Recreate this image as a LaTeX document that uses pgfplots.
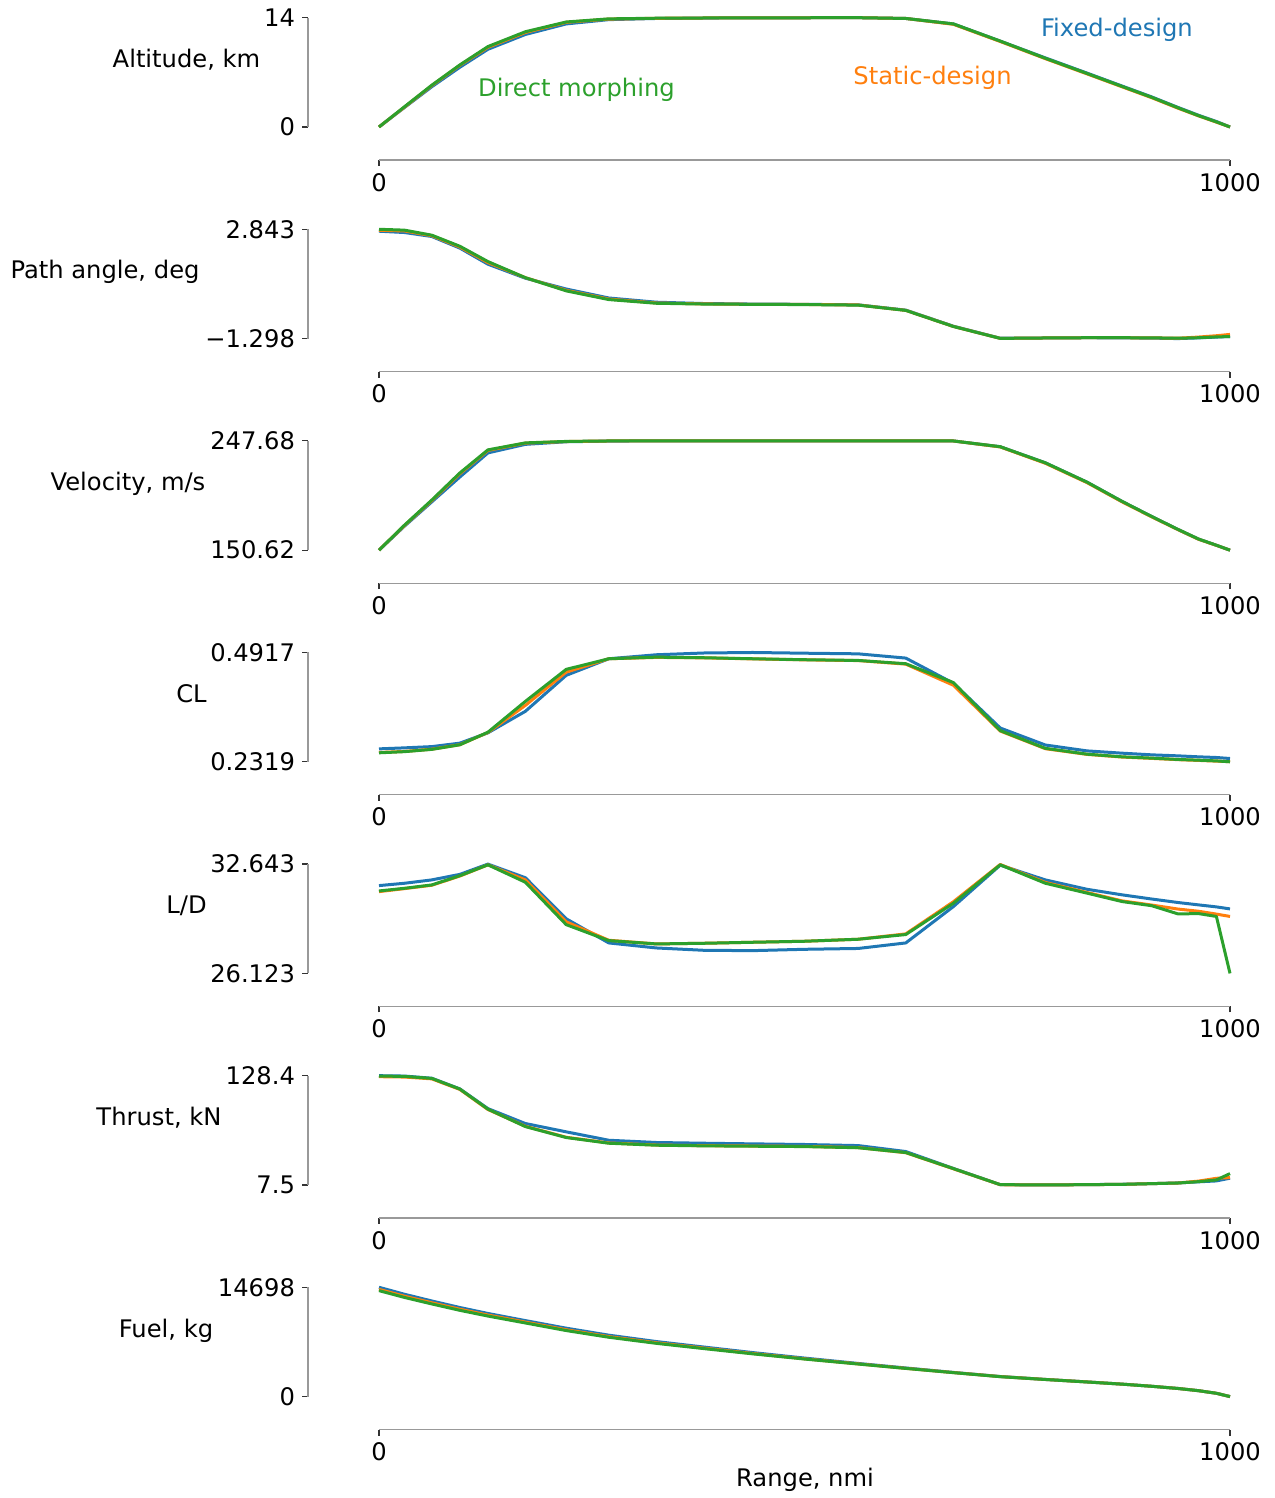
\documentclass[border=0pt]{standalone}
\usepackage{fontspec}
\setmainfont{DejaVu Sans}
\usepackage{pgfplots}
\usepackage{pgfplotstable}
\pgfplotsset{compat=1.18}

\definecolor{cFixed}{HTML}{1F77B4}
\definecolor{cStatic}{HTML}{FF7F0E}
\definecolor{cDirect}{HTML}{2CA02C}

\newcommand{\fs}{\fontsize{12.1pt}{14.5pt}\selectfont}

% columns: range (nmi), fixed-design, static-design, direct morphing
\pgfplotstableread{
x    f      s      d
0    0      0      0
30   2.50   2.55   2.60
62   5.15   5.30   5.35
95   7.65   7.90   7.95
128  9.95   10.20  10.30
172  11.85  12.10  12.20
220  13.20  13.40  13.45
270  13.75  13.82  13.85
326  13.90  13.92  13.93
382  13.95  13.96  13.96
439  13.98  13.98  13.98
500  13.99  13.99  13.99
563  14.00  14.00  14.00
619  13.90  13.90  13.90
675  13.20  13.15  13.20
730  11.00  10.95  11.00
783  8.85   8.75   8.80
832  6.90   6.80   6.85
873  5.25   5.15   5.20
908  3.85   3.75   3.80
939  2.50   2.40   2.45
963  1.50   1.42   1.45
984  0.70   0.62   0.65
1000 0      0      0
}\altitude

\pgfplotstableread{
x    f       s       d
0    2.770   2.805   2.843
30   2.720   2.780   2.810
62   2.570   2.600   2.620
95   2.130   2.170   2.200
128  1.520   1.580   1.620
172  0.990   1.010   1.010
220  0.580   0.530   0.510
270  0.240   0.200   0.180
326  0.080   0.050   0.040
382  0.030   0.015   0.010
439  0.010   0.000   0.000
500  0.000  -0.005  -0.010
563 -0.020  -0.025  -0.030
619 -0.220  -0.230  -0.230
675 -0.830  -0.840  -0.840
730 -1.285  -1.290  -1.290
783 -1.275  -1.275  -1.275
832 -1.265  -1.265  -1.265
873 -1.270  -1.265  -1.265
908 -1.280  -1.270  -1.270
939 -1.298  -1.285  -1.285
963 -1.270  -1.240  -1.265
984 -1.240  -1.190  -1.235
1000 -1.220 -1.140  -1.220
}\pathangle

\pgfplotstableread{
x    f       s       d
0    150.62  150.62  150.62
30   172.00  172.60  172.90
62   193.50  194.60  195.10
95   215.60  218.50  219.20
128  237.00  239.20  239.70
172  244.60  245.70  245.90
220  246.90  247.10  247.20
270  247.50  247.60  247.60
326  247.68  247.68  247.68
382  247.68  247.68  247.68
439  247.68  247.68  247.68
500  247.68  247.68  247.68
563  247.68  247.68  247.68
619  247.68  247.68  247.68
675  247.60  247.60  247.60
730  242.50  242.30  242.50
783  228.20  227.80  228.20
832  211.00  210.60  211.00
873  194.00  193.60  194.00
908  180.50  180.20  180.50
939  169.00  168.80  169.00
963  160.50  160.30  160.50
984  155.00  154.90  155.00
1000 150.62  150.62  150.62
}\velocity

\pgfplotstableread{
x    f       s       d
0    0.2626  0.2540  0.2532
30   0.2650  0.2565  0.2560
62   0.2680  0.2618  0.2614
95   0.2762  0.2725  0.2723
128  0.3007  0.3015  0.3022
172  0.3519  0.3660  0.3755
220  0.4374  0.4450  0.4516
270  0.4768  0.4768  0.4768
326  0.4863  0.4800  0.4806
382  0.4905  0.4790  0.4792
439  0.4917  0.4765  0.4768
500  0.4900  0.4742  0.4745
563  0.4885  0.4725  0.4728
619  0.4784  0.4640  0.4650
675  0.4186  0.4138  0.4201
730  0.3122  0.3050  0.3060
783  0.2718  0.2630  0.2639
832  0.2578  0.2495  0.2500
873  0.2524  0.2432  0.2437
908  0.2484  0.2400  0.2406
939  0.2460  0.2370  0.2374
963  0.2437  0.2352  0.2357
984  0.2421  0.2335  0.2340
1000 0.2397  0.2322  0.2319
}\liftcoef

\pgfplotstableread{
x    f       s       d
0    31.36   31.00   31.04
30   31.50   31.18   31.20
62   31.70   31.38   31.40
95   32.03   31.93   31.95
128  32.643  32.60   32.60
172  31.83   31.70   31.56
220  29.38   29.20   29.03
270  27.94   28.10   28.08
326  27.64   27.88   27.88
382  27.50   27.92   27.92
439  27.48   27.98   27.98
500  27.56   28.04   28.04
563  27.61   28.16   28.16
619  27.94   28.48   28.44
675  30.11   30.40   30.31
730  32.58   32.62   32.60
783  31.70   31.55   31.50
832  31.14   30.95   30.91
873  30.81   30.45   30.41
908  30.56   30.20   30.16
939  30.35   29.96   29.67
963  30.21   29.83   29.69
984  30.09   29.66   29.52
1000 29.97   29.52   26.123
}\lifttodrag

\pgfplotstableread{
x    f       s       d
0    128.4   127.3   128.0
30   128.0   126.9   127.6
62   125.6   124.9   125.4
95   113.8   113.2   113.6
128  92.0    91.0    91.4
172  75.5    72.5    72.1
220  66.3    60.3    60.0
270  57.0    54.0    53.7
326  54.5    51.7    51.5
382  53.7    51.0    50.8
439  53.0    50.6    50.4
500  52.3    50.2    50.0
563  51.1    48.9    48.7
619  44.5    43.2    43.4
675  25.8    25.4    25.6
730  7.9     7.8     7.9
783  7.6     7.5     7.5
832  7.9     7.9     7.9
873  8.3     8.2     8.2
908  9.0     9.0     9.0
939  9.8     9.7     9.7
963  11.0    11.8    11.2
984  12.0    14.9    13.1
1000 15.0    15.7    20.1
}\thrust

\pgfplotstableread{
x    f       s       d
0    14698   14420   14250
30   13760   13500   13330
62   12860   12620   12460
95   11980   11750   11600
128  11180   10970   10830
172  10220   10020   9900
220  9200    8990    8880
270  8260    8070    7980
326  7400    7240    7160
382  6660    6520    6450
439  5920    5800    5750
500  5180    5080    5050
563  4460    4400    4380
619  3850    3800    3790
675  3250    3230    3220
730  2700    2690    2680
783  2310    2305    2300
832  1975    1970    1965
873  1680    1676    1675
908  1390    1387    1385
939  1095    1092    1090
963  795     795     795
984  445     445     445
1000 0       0       0
}\fuel

\pgfplotsset{
  panel/.style={
    scale only axis, width=425.5pt, height=54.65pt,
    anchor=south west,
    xmin=0, xmax=1000, clip=false,
    axis lines=left,
    axis line style={-, draw=black!40, line width=0.6pt},
    axis x line shift=16.5pt, axis y line shift=35.5pt,
    xtick={0,1000}, xticklabels={0,1000},
    scaled y ticks=false,
    tick align=outside, major tick length=3pt,
    tick style={black!80, line width=0.6pt},
    tick label style={font=\fs},
    every axis plot/.append style={line width=1.5pt, line join=round},
  },
}
\tikzset{note/.style={anchor=base west, inner sep=0pt, font=\fs}}

\begin{document}
\begin{tikzpicture}
\path[use as bounding box] (0,0) rectangle (637pt,749pt);

\begin{axis}[panel, at={(189.5pt,685.5pt)},
  ymin=0, ymax=14, ytick={0,14}, yticklabels={0,14}]
  \addplot[cFixed]  table[x=x,y=f]{\altitude};
  \addplot[cStatic] table[x=x,y=s]{\altitude};
  \addplot[cDirect] table[x=x,y=d]{\altitude};
  \node[note, text=cDirect] at (axis cs:116,3.85) {Direct morphing};
  \node[note, text=cStatic] at (axis cs:557,5.39) {Static-design};
  \node[note, text=cFixed]  at (axis cs:777.5,11.6) {Fixed-design};
\end{axis}

\begin{axis}[panel, at={(189.5pt,579.7pt)},
  ymin=-1.298, ymax=2.843, ytick={-1.298,2.843}, yticklabels={−1.298,2.843}]
  \addplot[cFixed]  table[x=x,y=f]{\pathangle};
  \addplot[cStatic] table[x=x,y=s]{\pathangle};
  \addplot[cDirect] table[x=x,y=d]{\pathangle};
\end{axis}

\begin{axis}[panel, at={(189.5pt,473.9pt)},
  ymin=150.62, ymax=247.68, ytick={150.62,247.68}, yticklabels={150.62,247.68}]
  \addplot[cFixed]  table[x=x,y=f]{\velocity};
  \addplot[cStatic] table[x=x,y=s]{\velocity};
  \addplot[cDirect] table[x=x,y=d]{\velocity};
\end{axis}

\begin{axis}[panel, at={(189.5pt,368.1pt)},
  ymin=0.2319, ymax=0.4917, ytick={0.2319,0.4917}, yticklabels={0.2319,0.4917}]
  \addplot[cFixed]  table[x=x,y=f]{\liftcoef};
  \addplot[cStatic] table[x=x,y=s]{\liftcoef};
  \addplot[cDirect] table[x=x,y=d]{\liftcoef};
\end{axis}

\begin{axis}[panel, at={(189.5pt,262.3pt)},
  ymin=26.123, ymax=32.643, ytick={26.123,32.643}, yticklabels={26.123,32.643}]
  \addplot[cFixed]  table[x=x,y=f]{\lifttodrag};
  \addplot[cStatic] table[x=x,y=s]{\lifttodrag};
  \addplot[cDirect] table[x=x,y=d]{\lifttodrag};
\end{axis}

\begin{axis}[panel, at={(189.5pt,156.5pt)},
  ymin=7.5, ymax=128.4, ytick={7.5,128.4}, yticklabels={7.5,128.4}]
  \addplot[cFixed]  table[x=x,y=f]{\thrust};
  \addplot[cStatic] table[x=x,y=s]{\thrust};
  \addplot[cDirect] table[x=x,y=d]{\thrust};
\end{axis}

\begin{axis}[panel, at={(189.5pt,50.7pt)},
  ymin=0, ymax=14698, ytick={0,14698}, yticklabels={0,14698}]
  \addplot[cFixed]  table[x=x,y=f]{\fuel};
  \addplot[cStatic] table[x=x,y=s]{\fuel};
  \addplot[cDirect] table[x=x,y=d]{\fuel};
\end{axis}

% panel labels
\node[font=\fs, anchor=base] at (93.25pt,715pt)   {Altitude, km};
\node[font=\fs, anchor=base] at (52.5pt,609.5pt)  {Path angle, deg};
\node[font=\fs, anchor=base] at (64pt,503.5pt)    {Velocity, m/s};
\node[font=\fs, anchor=base] at (95.75pt,397.5pt) {CL};
\node[font=\fs, anchor=base] at (93.25pt,292pt)   {L/D};
\node[font=\fs, anchor=base] at (79.5pt,186pt)    {Thrust, kN};
\node[font=\fs, anchor=base] at (83pt,80pt)       {Fuel, kg};
\node[font=\fs, anchor=base] at (402.5pt,5.5pt)   {Range, nmi};
\end{tikzpicture}
\end{document}
